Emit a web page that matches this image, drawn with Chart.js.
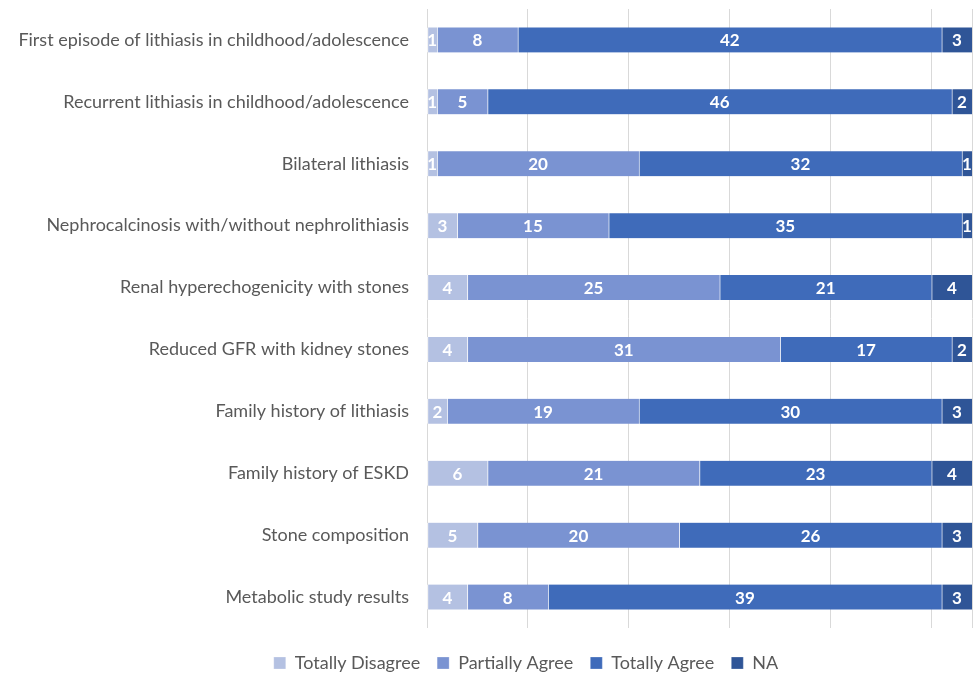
<!DOCTYPE html>
<html>
<head>
<meta charset="utf-8">
<script src="https://cdn.jsdelivr.net/npm/chart.js@4/dist/chart.umd.min.js"></script>
<style>
  html, body { margin: 0; padding: 0; background: #fff; }
  #wrap { width: 975px; height: 673px; }
</style>
</head>
<body>
<div id="wrap"><canvas id="chart"></canvas></div>
<script>
// Chart data
const categories = [
    'First episode of lithiasis in childhood/adolescence',
    'Recurrent lithiasis in childhood/adolescence',
    'Bilateral lithiasis',
    'Nephrocalcinosis with/without nephrolithiasis',
    'Renal hyperechogenicity with stones',
    'Reduced GFR with kidney stones',
    'Family history of lithiasis',
    'Family history of ESKD',
    'Stone composition',
    'Metabolic study results'
];
const seriesNames = ['Totally Disagree', 'Partially Agree', 'Totally Agree', 'NA'];
const totallyDisagree = [1, 1, 1, 3, 4, 4, 2, 6, 5, 4];
const partiallyAgree = [8, 5, 20, 15, 25, 31, 19, 21, 20, 8];
const totallyAgree = [42, 46, 32, 35, 21, 17, 30, 23, 26, 39];
const notApplicable = [3, 2, 1, 1, 4, 2, 3, 4, 3, 3];
const colors = ['#B4C1E2', '#7A93D2', '#3F6BBA', '#2F5597'];

const FONT = 'Lato, "Open Sans", sans-serif';

// White value labels in the middle of each segment
const valueLabels = {
    id: 'valueLabels',
    afterDatasetsDraw(chart) {
        const ctx = chart.ctx;
        ctx.save();
        ctx.fillStyle = '#ffffff';
        ctx.font = 'bold 17px ' + FONT;
        ctx.textAlign = 'center';
        ctx.textBaseline = 'middle';
        chart.data.datasets.forEach((ds, i) => {
            const meta = chart.getDatasetMeta(i);
            meta.data.forEach((bar, j) => {
                const v = ds.data[j];
                if (!v) return;
                const x = (bar.x + bar.base) / 2;
                ctx.fillText(String(v), x, bar.y + 1);
            });
        });
        ctx.restore();
    }
};

// Excel puts the legend a bit right of the canvas middle and lower down
const shiftLegend = {
    id: 'shiftLegend',
    afterLayout(chart) {
        const lg = chart.legend;
        lg.left += 40;
        lg.right += 40;
        lg.top += 9;
        lg.bottom += 9;
    }
};

const datasets = [totallyDisagree, partiallyAgree, totallyAgree, notApplicable].map((d, i) => ({
    label: seriesNames[i],
    data: d,
    backgroundColor: colors[i],
    borderColor: '#ffffff',
    borderWidth: { left: 1, right: 0, top: 0, bottom: 0 },
    borderSkipped: false,
    barThickness: 25
}));

new Chart(document.getElementById('chart'), {
    type: 'bar',
    data: { labels: categories, datasets: datasets },
    plugins: [valueLabels, shiftLegend],
    options: {
        indexAxis: 'y',
        responsive: true,
        maintainAspectRatio: false,
        animation: false,
        layout: { padding: { top: 9, right: 3, bottom: 0, left: 0 } },
        scales: {
            x: {
                stacked: true,
                min: 0,
                max: 54,
                ticks: { display: false, stepSize: 10 },
                grid: { color: '#D9D9D9', lineWidth: 1, drawTicks: false },
                border: { display: false }
            },
            y: {
                stacked: true,
                grid: { display: false, drawTicks: true, tickLength: 18 },
                border: { display: false },
                ticks: { color: '#595959', font: { family: FONT, size: 18, lineHeight: 1 }, padding: 0 },
                afterFit(scale) { scale.width = 427; }
            }
        },
        plugins: {
            legend: {
                position: 'bottom',
                labels: {
                    color: '#595959',
                    font: { family: FONT, size: 18 },
                    boxWidth: 12,
                    boxHeight: 12,
                    padding: 17
                }
            },
            tooltip: { enabled: false }
        }
    }
});
</script>
</body>
</html>
